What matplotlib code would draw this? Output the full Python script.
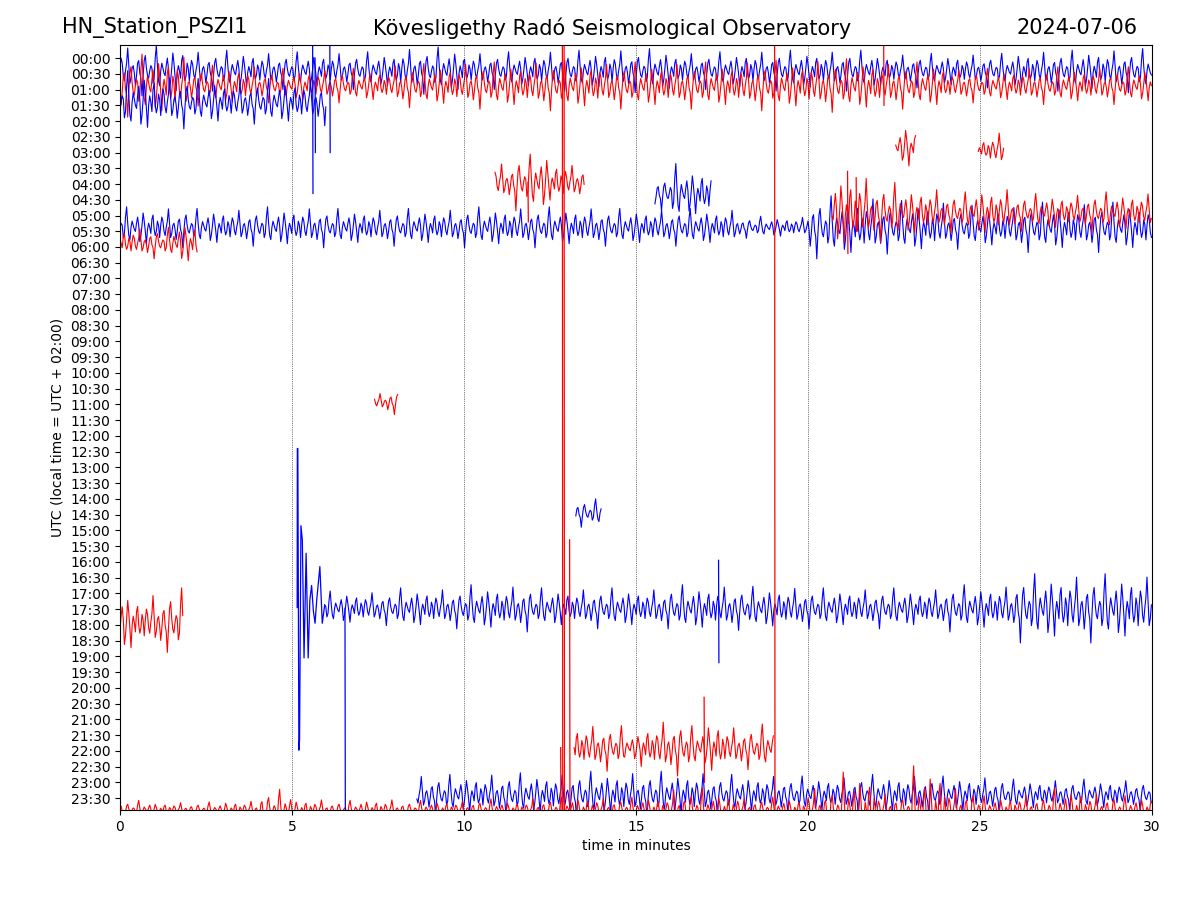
import numpy as np
import matplotlib
matplotlib.use('Agg')
import matplotlib.pyplot as plt

# dayplot: 48 rows of 30 minutes, row 0 = 00:00 at the top
row_labels = [f"{h:02d}:{m:02d}" for h in range(24) for m in (0, 30)]

# normalised wiggle shape (one cycle ~ 4-5 samples), repeated along every trace
wiggle = [0.1, 0.5, 0.3, -0.2, -0.4, 0.0, 0.3, 0.9, 0.2, -0.5,
          -0.3, 0.1, 0.2, -0.1, -0.6, -0.2, 0.3, 0.4, -0.1, -0.3,
          -1.0, -0.2, 0.4, 0.6, 0.1, -0.2, -0.3, 0.0, 0.2, 0.1,
          -0.5, -0.3, 0.5, 1.0, 0.2, -0.4, -0.6, 0.0, 0.3, 0.1,
          -0.1, -0.2, 0.2, 0.5, 0.1, -0.7, -0.4, 0.1, 0.7, 0.3,
          -0.2, -0.8, -0.1, 0.2, 0.0, -0.3, 0.4, 0.6, -0.1, -0.4,
          -0.2, 0.3, 0.1, -0.5]

# trace segments: colour, start/end minute, baseline row, peak amplitude per chunk (rows)
seg_color = ['blue', 'red', 'blue', 'red', 'red', 'red', 'blue', 'blue', 'red',
             'red', 'red', 'blue', 'blue', 'red', 'red', 'blue', 'red']
seg_start = [0, 0, 0, 22.55, 24.95, 10.9, 15.55, 0, 20.7,
             0, 7.4, 13.25, 5.95, 0, 13.2, 8.63, 0]
seg_end = [30, 30, 6.0, 23.15, 25.7, 13.5, 17.2, 30, 30,
           2.27, 8.1, 14.0, 30, 1.85, 19.0, 30, 30]
seg_row = [0.8, 1.75, 2.8, 5.65, 5.85, 7.9, 8.6, 10.75, 9.8,
           11.75, 21.85, 28.9, 34.95, 35.85, 43.8, 46.8, 47.75]
seg_env = [
    [1.6, 1.3, 1.2, 1.2, 1.5, 1.2, 1.3, 1.4, 1.2, 1.3, 1.3, 1.1, 1.1, 1.3, 1.4],
    [2.0, 1.3, 1.1, 1.1, 1.4, 1.5, 1.6, 1.5, 1.5, 1.6, 1.7, 1.5, 1.1, 1.2, 1.2],
    [2.0, 1.7, 1.5, 1.4, 1.5, 1.5],
    [1.2, 1.5, 1.2],
    [0.8, 1.0, 1.2],
    [1.3, 1.8, 2.0, 1.4, 1.2],
    [1.1, 1.9, 1.6, 1.6],
    [1.3, 1.2, 1.3, 1.2, 1.2, 1.3, 1.3, 1.2, 1.2, 0.7, 2.0, 1.7, 1.4, 1.6, 1.6],
    [2.4, 1.9, 1.6, 1.3, 1.6, 1.2, 1.2, 1.3, 1.3],
    [1.0, 1.0, 1.4],
    [0.6, 0.8],
    [0.9, 0.9],
    [1.1, 1.3, 1.5, 1.3, 1.3, 1.5, 1.4, 1.3, 1.3, 1.5, 2.2, 2.2],
    [2.0, 1.7, 1.9, 2.2],
    [1.5, 1.5, 1.4, 1.0, 1.5, 1.8, 1.8, 1.4, 1.8, 1.4, 1.4, 1.5],
    [1.3, 1.4, 1.5, 1.5, 1.3, 1.2, 1.3, 1.2, 1.0, 1.0],
    [0.6, 0.5, 0.5, 0.6, 1.3, 0.7, 0.6, 0.7, 0.6, 0.6, 0.7, 0.6, 0.8, 0.9, 0.8,
     0.9, 1.4, 1.1, 0.8, 0.8, 1.5, 2.4, 1.1, 2.8, 1.5, 0.9, 1.0, 1.4, 1.1, 0.9],
]

# large event at 17:30 (minute, row)
event_min = [5.15, 5.155, 5.17, 5.2, 5.22, 5.26, 5.3, 5.35, 5.41, 5.47,
             5.52, 5.57, 5.62, 5.67, 5.72, 5.81, 5.88, 5.95]
event_row = [34.9, 24.8, 24.8, 43.96, 43.3, 29.7, 30.6, 38.1, 31.45, 38.1,
             34.4, 33.5, 35.1, 35.9, 34.4, 32.3, 35.9, 34.75]

# single excursions: minute, top row, bottom row, colour
spike_min = [5.6, 5.67, 6.1, 22.2, 11.86, 21.15, 21.4, 12.86, 12.91, 19.03,
             13.07, 12.81, 6.54, 17.4, 16.98]
spike_top = [-0.83, 0.0, -0.83, -0.83, 7.9, 7.2, 7.6, -0.83, -0.83, -0.83,
             30.6, 43.8, 34.95, 31.9, 40.6]
spike_bot = [8.6, 6.0, 6.0, 3.0, 10.4, 12.4, 11.0, 47.76, 47.76, 47.76,
             47.76, 47.76, 47.76, 38.4, 46.0]
spike_color = ['blue', 'blue', 'blue', 'red', 'red', 'red', 'red', 'red', 'red', 'red',
               'red', 'red', 'blue', 'blue', 'red']

fig, ax = plt.subplots(figsize=(12, 9), dpi=100)
fig.subplots_adjust(left=0.1, right=0.96, top=0.95, bottom=0.1)

dt = 0.032
for k in range(len(seg_color)):
    x = np.arange(seg_start[k], seg_end[k], dt)
    env = np.array(seg_env[k])
    idx = np.minimum(((x - seg_start[k]) / (seg_end[k] - seg_start[k]) * len(env)).astype(int), len(env) - 1)
    shape = np.array([wiggle[(i + 13 * k) % len(wiggle)] for i in range(len(x))])
    ax.plot(x, seg_row[k] - shape * env[idx], color=seg_color[k], lw=0.8)

ax.plot(event_min, event_row, color='blue', lw=0.9)
for xm, t, b, c in zip(spike_min, spike_top, spike_bot, spike_color):
    ax.plot([xm, xm + 0.01], [t, b], color=c, lw=0.9)

for xv in [5, 10, 15, 20, 25]:
    ax.axvline(xv, color='black', lw=0.5, ls=':')

ax.set_xlim(0, 30)
ax.set_ylim(47.76, -0.83)
ax.set_xticks(range(0, 31, 5))
ax.set_yticks(range(len(row_labels)))
ax.set_yticklabels(row_labels)
ax.set_xlabel('time in minutes')
ax.set_ylabel('UTC (local time = UTC + 02:00)')

fig.text(0.052, 0.969, 'HN_Station_PSZI1', fontsize=15, ha='left', va='center')
fig.text(0.51, 0.969, 'Kövesligethy Radó Seismological Observatory', fontsize=15, ha='center', va='center')
fig.text(0.948, 0.969, '2024-07-06', fontsize=15, ha='right', va='center')

fig.savefig('out.png', dpi=100)
